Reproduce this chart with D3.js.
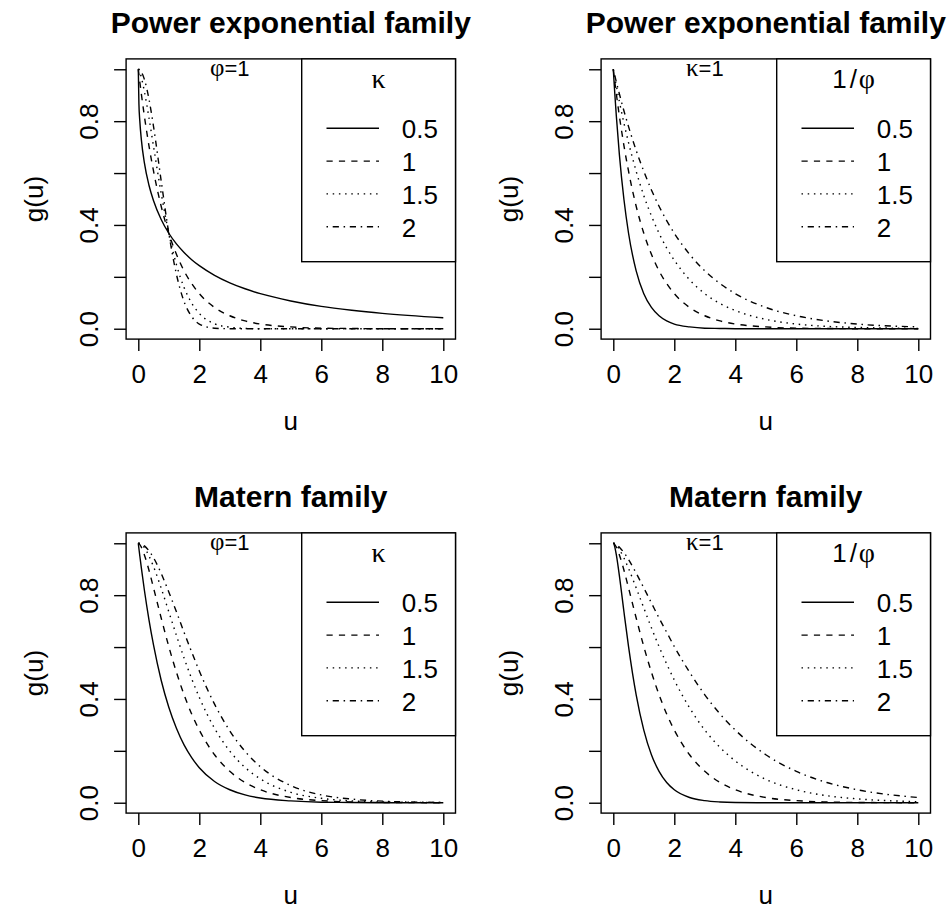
<!DOCTYPE html>
<html>
<head>
<meta charset="utf-8">
<script src="https://cdn.jsdelivr.net/npm/d3@7"></script>
<style>
  body { margin: 0; background: #fff; }
  text { font-family: "Liberation Sans", Arial, Helvetica, sans-serif; fill: #000; }
  .greek { font-family: "Liberation Serif", "DejaVu Serif", serif; }
</style>
</head>
<body>
<div id="chart"></div>
<script>
const uGrid = [0, 0.02, 0.05, 0.1, 0.2, 0.35, 0.5, 0.75, 1, 1.25, 1.5, 1.75, 2, 2.5, 3, 3.5, 4, 5, 6, 7, 8, 10];

// power exponential, phi = 1, kappa = 0.5, 1, 1.5, 2
const peK05 = [1, 0.868, 0.8, 0.729, 0.639, 0.553, 0.493, 0.421, 0.368, 0.327, 0.294, 0.266, 0.243, 0.206, 0.177, 0.154, 0.135, 0.107, 0.086, 0.071, 0.059, 0.042];
const peK1 = [1, 0.98, 0.951, 0.905, 0.819, 0.705, 0.607, 0.472, 0.368, 0.287, 0.223, 0.174, 0.135, 0.082, 0.05, 0.03, 0.018, 0.007, 0.002, 0.001, 0, 0];
const peK15 = [1, 0.997, 0.989, 0.969, 0.914, 0.813, 0.702, 0.522, 0.368, 0.247, 0.159, 0.099, 0.059, 0.019, 0.006, 0.001, 0, 0, 0, 0, 0, 0];
const peK2 = [1, 1, 0.998, 0.99, 0.961, 0.885, 0.779, 0.57, 0.368, 0.21, 0.105, 0.047, 0.018, 0.002, 0, 0, 0, 0, 0, 0, 0, 0];

// power exponential, kappa = 1, phi = 0.5, 1, 1.5, 2
const pePhi05 = [1, 0.961, 0.905, 0.819, 0.67, 0.497, 0.368, 0.223, 0.135, 0.082, 0.05, 0.03, 0.018, 0.007, 0.002, 0.001, 0, 0, 0, 0, 0, 0];
const pePhi1 = [1, 0.98, 0.951, 0.905, 0.819, 0.705, 0.607, 0.472, 0.368, 0.287, 0.223, 0.174, 0.135, 0.082, 0.05, 0.03, 0.018, 0.007, 0.002, 0.001, 0, 0];
const pePhi15 = [1, 0.987, 0.967, 0.936, 0.875, 0.792, 0.717, 0.607, 0.513, 0.435, 0.368, 0.311, 0.264, 0.189, 0.135, 0.097, 0.07, 0.036, 0.018, 0.009, 0.005, 0.001];
const pePhi2 = [1, 0.99, 0.975, 0.951, 0.905, 0.839, 0.779, 0.687, 0.607, 0.535, 0.472, 0.417, 0.368, 0.287, 0.223, 0.174, 0.135, 0.082, 0.05, 0.03, 0.018, 0.007];

// matern, phi = 1, kappa = 0.5, 1, 1.5, 2
const maK05 = [1, 0.98, 0.951, 0.905, 0.819, 0.705, 0.607, 0.472, 0.368, 0.287, 0.223, 0.174, 0.135, 0.082, 0.05, 0.03, 0.018, 0.007, 0.002, 0.001, 0, 0];
const maK1 = [1, 0.999, 0.995, 0.985, 0.955, 0.896, 0.828, 0.712, 0.602, 0.503, 0.416, 0.342, 0.28, 0.185, 0.121, 0.078, 0.05, 0.02, 0.008, 0.003, 0.001, 0];
const maK15 = [1, 1, 0.999, 0.995, 0.983, 0.951, 0.91, 0.827, 0.736, 0.645, 0.558, 0.478, 0.406, 0.287, 0.199, 0.136, 0.092, 0.04, 0.017, 0.007, 0.003, 0.001];
const maK2 = [1, 1, 0.999, 0.997, 0.99, 0.971, 0.944, 0.884, 0.812, 0.736, 0.657, 0.581, 0.508, 0.38, 0.277, 0.198, 0.139, 0.066, 0.03, 0.014, 0.006, 0.001];

// matern, kappa = 1, phi = 0.5, 1, 1.5, 2
const maPhi05 = [1, 0.997, 0.985, 0.955, 0.874, 0.735, 0.602, 0.416, 0.28, 0.185, 0.121, 0.078, 0.05, 0.02, 0.008, 0.003, 0.001, 0, 0, 0, 0, 0];
const maPhi1 = [1, 0.999, 0.995, 0.985, 0.955, 0.896, 0.828, 0.712, 0.602, 0.503, 0.416, 0.342, 0.28, 0.185, 0.121, 0.078, 0.05, 0.02, 0.008, 0.003, 0.001, 0];
const maPhi15 = [1, 1, 0.998, 0.993, 0.976, 0.943, 0.903, 0.828, 0.751, 0.674, 0.602, 0.535, 0.473, 0.366, 0.28, 0.213, 0.161, 0.09, 0.05, 0.027, 0.015, 0.004];
const maPhi2 = [1, 1, 0.999, 0.995, 0.985, 0.964, 0.937, 0.885, 0.828, 0.77, 0.712, 0.657, 0.602, 0.503, 0.416, 0.342, 0.28, 0.185, 0.121, 0.078, 0.05, 0.02];

const legendLabels = ["0.5", "1", "1.5", "2"];
const xTicks = [0, 2, 4, 6, 8, 10];
const yTicks = [0, 0.2, 0.4, 0.6, 0.8, 1];
const yTickLabels = [0, 0.4, 0.8];
const titles = ["Power exponential family", "Power exponential family", "Matern family", "Matern family"];

// R line types 1..4 (solid, dashed, dotted, dotdash)
const dashes = [null, "6.2,6.2", "1.5,4.7", "1.5,4.7,6.2,4.7"];

const panels = [
  { col: 0, row: 0, title: titles[0], note: ["φ", "=1"], legTitle: "kappa", series: [peK05, peK1, peK15, peK2] },
  { col: 1, row: 0, title: titles[1], note: ["κ", "=1"], legTitle: "phi", series: [pePhi05, pePhi1, pePhi15, pePhi2] },
  { col: 0, row: 1, title: titles[2], note: ["φ", "=1"], legTitle: "kappa", series: [maK05, maK1, maK15, maK2] },
  { col: 1, row: 1, title: titles[3], note: ["κ", "=1"], legTitle: "phi", series: [maPhi05, maPhi1, maPhi15, maPhi2] },
];

const width = 949;
const height = 909;
const panelDx = 475;
const panelDy = 474;
const plotLeft = 126.1;
const plotTop = 58.9;
const plotW = 329.4;
const plotH = 280.2;
const fontSize = 26;

const svg = d3
  .select("#chart")
  .append("svg")
  .attr("width", width)
  .attr("height", height)
  .style("background", "#fff");

const x = d3.scaleLinear().domain([-0.4, 10.4]).range([0, plotW]);
const y = d3.scaleLinear().domain([-0.04, 1.04]).range([plotH, 0]);

panels.forEach((p) => {
  const g = svg
    .append("g")
    .attr("transform", `translate(${plotLeft + p.col * panelDx}, ${plotTop + p.row * panelDy})`);

  // curves
  const line = d3
    .line()
    .x((d) => x(d[0]))
    .y((d) => y(d[1]))
    .curve(d3.curveMonotoneX);

  p.series.forEach((vals, i) => {
    g.append("path")
      .datum(uGrid.map((u, j) => [u, vals[j]]))
      .attr("fill", "none")
      .attr("stroke", "#000")
      .attr("stroke-width", 1.4)
      .attr("stroke-dasharray", dashes[i])
      .attr("d", line);
  });

  // axes
  const xAxis = g
    .append("g")
    .attr("transform", `translate(0, ${plotH})`)
    .call(d3.axisBottom(x).tickValues(xTicks).tickSize(12).tickPadding(13).tickFormat(d3.format("d")));
  xAxis.select(".domain").remove();
  xAxis.selectAll(".tick line").attr("stroke", "#000").attr("stroke-width", 1.4);
  xAxis.selectAll(".tick text").style("font-size", fontSize + "px").attr("fill", "#000");

  const yAxis = g
    .append("g")
    .call(
      d3
        .axisLeft(y)
        .tickValues(yTicks)
        .tickSize(12)
        .tickFormat((d) => (yTickLabels.includes(d) ? d3.format(".1f")(d) : ""))
    );
  yAxis.select(".domain").remove();
  yAxis.selectAll(".tick line").attr("stroke", "#000").attr("stroke-width", 1.4);
  yAxis
    .selectAll(".tick text")
    .attr("transform", "rotate(-90)")
    .attr("x", 0)
    .attr("y", -28)
    .attr("dy", 0)
    .attr("text-anchor", "middle")
    .attr("fill", "#000")
    .style("font-size", fontSize + "px");

  // box
  g.append("rect")
    .attr("width", plotW)
    .attr("height", plotH)
    .attr("fill", "none")
    .attr("stroke", "#000")
    .attr("stroke-width", 1.4);

  // title and axis labels
  g.append("text")
    .attr("x", plotW / 2)
    .attr("y", -26)
    .attr("text-anchor", "middle")
    .style("font-size", "30px")
    .style("font-weight", "bold")
    .text(p.title);

  g.append("text")
    .attr("x", plotW / 2)
    .attr("y", plotH + 91)
    .attr("text-anchor", "middle")
    .style("font-size", fontSize + "px")
    .text("u");

  g.append("text")
    .attr("transform", `translate(-83, ${plotH / 2}) rotate(-90)`)
    .attr("text-anchor", "middle")
    .style("font-size", fontSize + "px")
    .text("g(u)");

  // phi=1 / kappa=1 note
  const note = g
    .append("text")
    .attr("x", x(3))
    .attr("y", y(1) + 7)
    .attr("text-anchor", "middle")
    .style("font-size", "22px");
  note.append("tspan").attr("class", "greek").style("font-size", "25px").text(p.note[0]);
  note.append("tspan").text(p.note[1]);

  // legend
  const legLeft = 175.6;
  const leg = g.append("g");
  leg
    .append("rect")
    .attr("x", legLeft)
    .attr("y", 0)
    .attr("width", plotW - legLeft)
    .attr("height", 202.8)
    .attr("fill", "#fff")
    .attr("stroke", "#000")
    .attr("stroke-width", 1.4);

  const legTitle = leg
    .append("text")
    .attr("x", legLeft + (plotW - legLeft) / 2)
    .attr("y", 29)
    .attr("text-anchor", "middle")
    .style("font-size", fontSize + "px");
  if (p.legTitle === "kappa") {
    legTitle.append("tspan").attr("class", "greek").style("font-size", "28px").text("κ");
  } else {
    legTitle.append("tspan").text("1");
    legTitle.append("tspan").attr("dx", 3).text("/");
    legTitle.append("tspan").attr("class", "greek").attr("dx", 2).style("font-size", "28px").text("φ");
  }

  legendLabels.forEach((lab, i) => {
    const by = 79.4 + i * 32.8;
    leg
      .append("line")
      .attr("x1", 200.4)
      .attr("x2", 252.9)
      .attr("y1", by - 10)
      .attr("y2", by - 10)
      .attr("stroke", "#000")
      .attr("stroke-width", 1.4)
      .attr("stroke-dasharray", dashes[i]);
    leg
      .append("text")
      .attr("x", 275.6)
      .attr("y", by)
      .style("font-size", fontSize + "px")
      .text(lab);
  });
});
</script>
</body>
</html>
